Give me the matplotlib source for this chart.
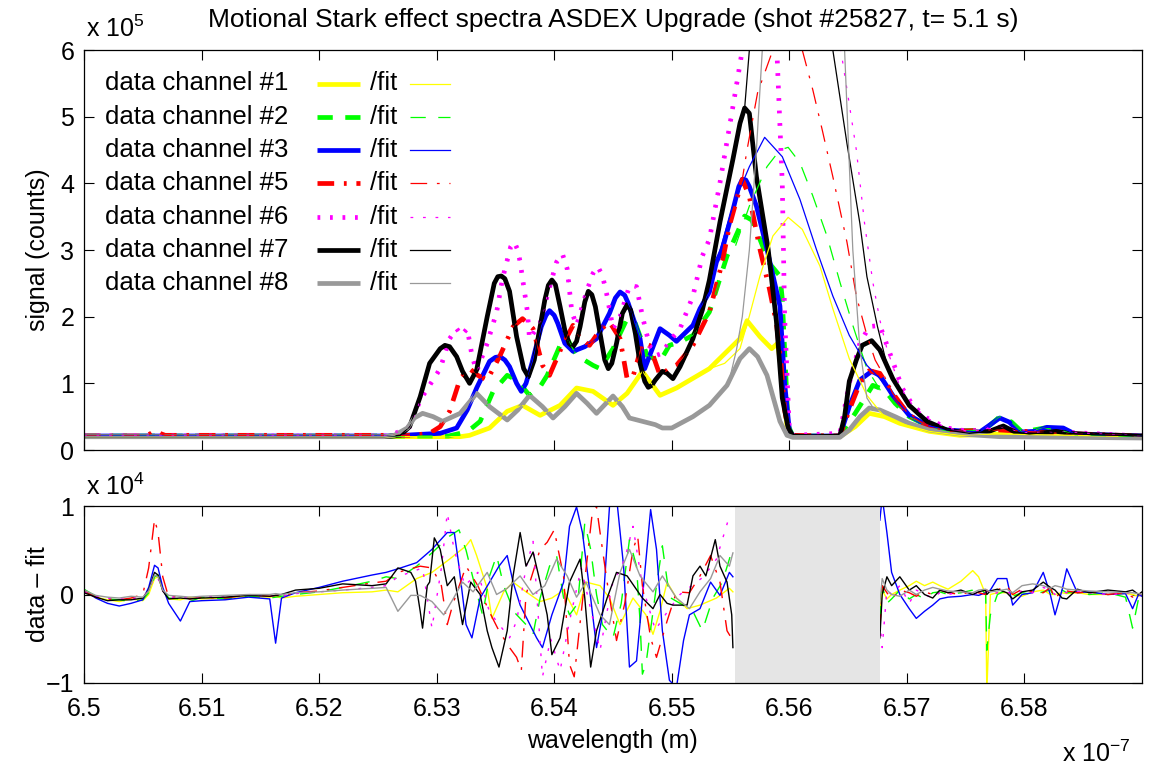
import numpy as np
import matplotlib
matplotlib.use("Agg")
import matplotlib.pyplot as plt

plt.rcParams['font.family'] = ['Liberation Sans', 'DejaVu Sans']
plt.rcParams['mathtext.fontset'] = 'custom'
plt.rcParams['mathtext.rm'] = 'Liberation Sans'
plt.rcParams['mathtext.it'] = 'Liberation Sans:italic'
plt.rcParams['mathtext.bf'] = 'Liberation Sans:bold'
plt.rcParams['mathtext.sf'] = 'Liberation Sans'
plt.rcParams['lines.scale_dashes'] = False

# ---------------- data (wavelength in nm, signal in 1e5 counts) ----------------
channel_names = ['#1', '#2', '#3', '#5', '#6', '#7', '#8']

lam1 = [650.0, 653.2, 653.28, 653.45, 653.60, 653.73, 653.88, 654.05, 654.19, 654.33, 654.50, 654.62, 654.75, 654.90, 655.04, 655.32, 655.58, 655.64, 655.75, 655.85, 655.90, 655.94, 655.98, 656.03, 656.43, 656.56, 656.68, 656.81, 656.94, 657.19, 657.45, 657.79, 659.0]
sig1 = [0.20, 0.20, 0.22, 0.33, 0.58, 0.67, 0.52, 0.67, 0.93, 0.88, 0.67, 0.85, 1.18, 0.82, 0.93, 1.22, 1.67, 1.94, 1.70, 1.52, 1.60, 1.10, 0.35, 0.20, 0.20, 0.35, 0.55, 0.50, 0.40, 0.28, 0.22, 0.24, 0.20]

lam2 = [650.0, 653.1, 653.20, 653.28, 653.37, 653.48, 653.54, 653.60, 653.68, 653.79, 653.88, 653.94, 654.05, 654.11, 654.19, 654.33, 654.39, 654.50, 654.62, 654.69, 654.79, 654.90, 654.98, 655.07, 655.18, 655.32, 655.47, 655.62, 655.68, 655.75, 655.83, 655.92, 655.94, 655.96, 655.99, 656.03, 656.43, 656.56, 656.71, 656.81, 656.90, 657.02, 657.19, 657.36, 657.66, 657.79, 657.89, 657.98, 658.17, 658.30, 658.43, 659.0]
sig2 = [0.21, 0.21, 0.25, 0.30, 0.43, 0.88, 1.00, 1.12, 1.05, 0.82, 0.95, 1.12, 1.57, 1.67, 1.42, 1.27, 1.22, 1.52, 1.97, 1.90, 1.42, 1.33, 1.57, 1.62, 1.72, 2.07, 2.91, 3.51, 3.45, 3.16, 2.80, 2.61, 2.27, 1.50, 0.37, 0.21, 0.21, 0.55, 0.97, 0.90, 0.70, 0.50, 0.35, 0.28, 0.30, 0.50, 0.42, 0.27, 0.33, 0.30, 0.23, 0.20]

lam3 = [650.0, 652.6, 653.03, 653.17, 653.26, 653.34, 653.45, 653.50, 653.54, 653.58, 653.62, 653.68, 653.72, 653.76, 653.81, 653.89, 653.93, 653.96, 654.00, 654.03, 654.09, 654.16, 654.26, 654.36, 654.47, 654.52, 654.56, 654.60, 654.63, 654.73, 654.77, 654.83, 654.90, 654.98, 655.04, 655.18, 655.24, 655.32, 655.38, 655.43, 655.52, 655.57, 655.60, 655.63, 655.66, 655.72, 655.81, 655.92, 655.96, 656.00, 656.03, 656.43, 656.51, 656.60, 656.70, 656.77, 656.88, 657.02, 657.17, 657.34, 657.62, 657.79, 657.87, 657.96, 658.09, 658.19, 658.33, 658.43, 659.0]
sig3 = [0.21, 0.21, 0.25, 0.33, 0.60, 0.93, 1.33, 1.39, 1.40, 1.35, 1.25, 1.00, 0.88, 1.00, 1.30, 1.85, 2.02, 2.09, 2.02, 1.90, 1.60, 1.48, 1.55, 1.67, 2.05, 2.28, 2.37, 2.32, 2.20, 1.67, 1.22, 1.50, 1.82, 1.72, 1.63, 1.87, 2.12, 2.37, 2.82, 3.01, 3.60, 3.95, 4.06, 4.05, 3.95, 3.66, 3.01, 2.16, 1.00, 0.30, 0.21, 0.21, 0.65, 1.05, 1.18, 1.12, 0.82, 0.52, 0.37, 0.30, 0.27, 0.48, 0.42, 0.27, 0.28, 0.34, 0.33, 0.24, 0.21]

lam5 = [650.0, 650.5, 650.54, 650.60, 650.69, 652.8, 652.94, 653.03, 653.11, 653.20, 653.28, 653.35, 653.43, 653.54, 653.65, 653.73, 653.82, 653.90, 653.96, 654.07, 654.16, 654.22, 654.30, 654.39, 654.47, 654.56, 654.62, 654.67, 654.75, 654.81, 654.90, 654.98, 655.04, 655.18, 655.32, 655.43, 655.49, 655.60, 655.66, 655.75, 655.83, 655.89, 655.93, 655.96, 656.00, 656.43, 656.51, 656.60, 656.68, 656.77, 656.88, 657.02, 657.19, 657.36, 657.79, 658.30, 659.0]
sig5 = [0.21, 0.21, 0.22, 0.28, 0.22, 0.22, 0.25, 0.35, 0.58, 1.07, 1.22, 1.12, 1.05, 1.42, 1.85, 1.97, 1.82, 1.27, 1.12, 1.57, 1.87, 1.67, 1.57, 1.80, 1.92, 1.67, 1.07, 1.10, 1.60, 1.57, 1.12, 1.22, 1.27, 1.57, 2.07, 2.82, 3.36, 4.06, 3.80, 3.01, 2.42, 1.90, 1.30, 0.60, 0.22, 0.21, 0.60, 1.00, 1.19, 1.15, 0.85, 0.52, 0.35, 0.28, 0.30, 0.25, 0.21]

lam6 = [650.0, 652.6, 652.77, 652.86, 653.03, 653.11, 653.17, 653.21, 653.26, 653.30, 653.34, 653.43, 653.51, 653.56, 653.63, 653.66, 653.69, 653.71, 653.77, 653.79, 653.88, 653.94, 654.02, 654.07, 654.11, 654.15, 654.19, 654.28, 654.33, 654.37, 654.41, 654.45, 654.50, 654.56, 654.64, 654.70, 654.75, 654.81, 654.87, 654.92, 654.98, 655.07, 655.18, 655.26, 655.32, 655.41, 655.52, 655.60, 655.71, 655.79, 655.88, 655.94, 655.96, 656.00, 656.03, 656.43, 656.51, 656.60, 656.68, 656.77, 656.88, 656.96, 657.05, 657.17, 657.34, 657.53, 657.82, 657.96, 658.30, 659.0]
sig6 = [0.21, 0.21, 0.35, 0.75, 1.22, 1.67, 1.82, 1.72, 1.82, 1.42, 1.18, 1.60, 2.07, 2.57, 3.05, 3.12, 3.00, 2.82, 2.10, 1.67, 1.90, 2.31, 2.82, 2.94, 2.72, 2.07, 1.87, 2.40, 2.65, 2.75, 2.62, 2.31, 1.82, 2.00, 2.46, 2.45, 2.01, 1.57, 1.42, 1.45, 1.63, 1.82, 2.31, 2.91, 3.16, 4.01, 5.15, 6.00, 6.80, 7.00, 6.60, 4.00, 2.00, 0.30, 0.22, 0.25, 1.00, 1.60, 1.85, 1.87, 1.33, 0.93, 0.67, 0.48, 0.33, 0.28, 0.35, 0.26, 0.27, 0.21]

lam7 = [650.0, 651.0, 652.0, 652.55, 652.69, 652.77, 652.86, 652.94, 653.03, 653.07, 653.11, 653.17, 653.22, 653.28, 653.34, 653.43, 653.49, 653.52, 653.55, 653.58, 653.62, 653.68, 653.74, 653.78, 653.83, 653.92, 653.95, 653.98, 654.01, 654.05, 654.09, 654.13, 654.16, 654.19, 654.22, 654.26, 654.29, 654.32, 654.35, 654.41, 654.43, 654.46, 654.49, 654.53, 654.58, 654.62, 654.65, 654.69, 654.73, 654.77, 654.80, 654.83, 654.86, 654.92, 654.96, 655.01, 655.07, 655.18, 655.26, 655.32, 655.41, 655.52, 655.58, 655.62, 655.66, 655.72, 655.82, 655.89, 655.94, 655.99, 656.03, 656.20, 656.43, 656.47, 656.51, 656.57, 656.62, 656.70, 656.77, 656.88, 657.02, 657.17, 657.34, 657.53, 657.70, 657.82, 657.92, 658.04, 658.17, 658.27, 658.38, 658.58, 659.0]
sig7 = [0.20, 0.20, 0.20, 0.20, 0.22, 0.35, 0.80, 1.30, 1.52, 1.57, 1.55, 1.40, 1.18, 1.00, 1.20, 2.00, 2.50, 2.60, 2.61, 2.57, 2.38, 1.70, 1.22, 1.10, 1.35, 2.25, 2.47, 2.55, 2.48, 2.15, 1.80, 1.58, 1.55, 1.63, 1.85, 2.22, 2.38, 2.33, 2.15, 1.55, 1.35, 1.22, 1.30, 1.60, 2.05, 2.18, 2.10, 1.75, 1.30, 1.03, 0.94, 0.97, 1.05, 1.18, 1.15, 1.07, 1.25, 1.67, 2.10, 2.55, 3.42, 4.36, 4.90, 5.13, 5.05, 4.10, 3.01, 1.93, 0.78, 0.33, 0.21, 0.20, 0.21, 0.50, 1.03, 1.35, 1.57, 1.64, 1.50, 1.07, 0.67, 0.43, 0.30, 0.25, 0.28, 0.36, 0.27, 0.24, 0.26, 0.28, 0.25, 0.23, 0.21]

lam8 = [650.0, 652.55, 652.64, 652.75, 652.81, 652.88, 652.97, 653.05, 653.20, 653.34, 653.45, 653.60, 653.69, 653.79, 653.90, 653.99, 654.09, 654.19, 654.28, 654.36, 654.50, 654.58, 654.64, 654.75, 654.86, 654.92, 655.00, 655.18, 655.32, 655.47, 655.58, 655.66, 655.73, 655.81, 655.92, 655.98, 656.03, 656.43, 656.51, 656.60, 656.68, 656.77, 656.90, 657.02, 657.19, 657.45, 657.79, 659.0]
sig8 = [0.20, 0.20, 0.22, 0.33, 0.48, 0.55, 0.50, 0.43, 0.55, 0.85, 0.65, 0.45, 0.60, 0.82, 0.65, 0.48, 0.65, 0.85, 0.70, 0.55, 0.81, 0.65, 0.48, 0.43, 0.38, 0.33, 0.33, 0.50, 0.67, 0.97, 1.37, 1.52, 1.40, 1.12, 0.43, 0.22, 0.19, 0.19, 0.30, 0.50, 0.63, 0.60, 0.50, 0.40, 0.30, 0.24, 0.20, 0.18]

# fits where they differ from the data (central region)
fit1_lam = [655.32, 655.45, 655.58, 655.66, 655.75, 655.86, 655.99, 656.11, 656.26, 656.37, 656.51, 656.66, 656.77, 656.81]
fit1 = [1.22, 1.30, 1.52, 2.01, 2.61, 3.21, 3.49, 3.31, 2.76, 2.12, 1.37, 0.82, 0.58, 0.50]
fit2_lam = [655.47, 655.52, 655.66, 655.81, 655.92, 655.99, 656.09, 656.20, 656.32, 656.43, 656.54, 656.66, 656.78, 656.90]
fit2 = [2.91, 2.95, 3.66, 4.25, 4.50, 4.54, 4.31, 3.81, 3.21, 2.52, 1.87, 1.22, 0.88, 0.70]
fit3_lam = [655.38, 655.52, 655.66, 655.79, 655.94, 656.09, 656.23, 656.37, 656.51, 656.66, 656.77, 656.88]
fit3 = [2.82, 3.66, 4.25, 4.69, 4.40, 3.76, 3.01, 2.31, 1.72, 1.27, 1.07, 0.82]
fit5_lam = [655.60, 655.64, 655.73, 655.86, 655.98, 656.11, 656.20, 656.28, 656.37, 656.49, 656.57, 656.66, 656.73, 656.81, 656.88]
fit5 = [4.06, 4.50, 5.36, 6.00, 6.35, 6.00, 5.40, 4.80, 4.10, 3.12, 2.31, 1.72, 1.35, 1.10, 0.85]
fit6_lam = [655.60, 655.75, 655.90, 656.05, 656.20, 656.32, 656.42, 656.50, 656.57, 656.64, 656.71, 656.77, 656.83, 656.94, 657.05]
fit6 = [6.00, 7.80, 8.80, 9.00, 8.50, 7.30, 6.20, 5.30, 4.50, 3.40, 2.52, 1.95, 1.52, 0.95, 0.67]
fit7_lam = [655.62, 655.66, 655.72, 655.85, 656.00, 656.15, 656.31, 656.37, 656.49, 656.60, 656.66, 656.75, 656.82]
fit7 = [5.13, 6.00, 7.00, 8.30, 8.70, 8.30, 6.80, 6.00, 4.60, 3.40, 2.60, 1.85, 1.35]
fit8_lam = [655.47, 655.49, 655.55, 655.60, 655.66, 655.72, 655.77, 655.90, 656.12, 656.35, 656.47, 656.54, 656.60, 656.66, 656.71]
fit8 = [0.97, 1.05, 1.50, 2.00, 3.00, 4.50, 6.00, 8.50, 9.50, 8.50, 6.00, 3.00, 1.52, 0.78, 0.64]

# residuals (data - fit) in 1e4 counts
res_left_lam = [650.0, 650.1, 650.2, 650.3, 650.4, 650.5, 650.55, 650.6, 650.63, 650.67, 650.72, 650.82, 650.9, 651.0, 651.2, 651.4, 651.58, 651.63, 651.68, 651.8, 652.0, 652.2, 652.45]
res_right_lam = [656.77, 656.79, 656.83, 656.87, 656.94, 657.02, 657.08, 657.15, 657.22, 657.28, 657.35, 657.46, 657.56, 657.61, 657.67, 657.68, 657.71, 657.77, 657.85, 657.90, 657.98, 658.07, 658.16, 658.22, 658.26, 658.32, 658.36, 658.45, 658.55, 658.71, 658.86, 658.92, 658.97, 659.0]

res1_left = [0.03, -0.03, -0.06, -0.08, -0.05, -0.07, 0.0, 0.18, 0.2, 0.05, -0.05, -0.06, -0.03, -0.05, -0.04, -0.02, -0.03, -0.02, -0.04, -0.02, 0.0, 0.02, 0.03]
res1_mid_lam = [652.57, 652.67, 652.83, 652.96, 653.11, 653.25, 653.29, 653.34, 653.43, 653.47, 653.57, 653.65, 653.76, 653.88, 653.98, 654.08, 654.19, 654.27, 654.39, 654.47, 654.56, 654.67, 654.78, 654.84, 654.90, 654.96, 655.04, 655.13, 655.24, 655.38, 655.49, 655.52]
res1_mid = [0.05, 0.03, 0.18, 0.25, 0.40, 0.55, 0.62, 0.44, 0.07, -0.27, 0.03, 0.14, 0.03, -0.08, -0.04, 0.05, -0.23, 0.14, 0.10, -0.04, -0.34, -0.04, -0.23, -0.45, -0.19, 0.14, -0.04, -0.16, -0.12, -0.04, 0.07, 0.03]
res1_right = [-0.2, 0.05, -0.05, 0.0, 0.05, 0.1, 0.15, 0.1, 0.14, 0.1, 0.06, 0.15, 0.27, 0.2, 0.0, -1.1, 0.0, 0.02, 0.02, 0.0, -0.02, 0.03, 0.05, 0.0, 0.0, 0.02, 0.01, 0.02, 0.0, 0.0, 0.01, 0.0, -0.02, 0.0]

res2_left = [0.06, -0.02, -0.05, -0.06, -0.08, -0.06, 0.02, 0.2, 0.22, 0.06, -0.04, -0.05, -0.08, -0.03, -0.05, -0.02, -0.04, -0.03, -0.02, 0.0, 0.03, 0.08, 0.15]
res2_mid_lam = [652.57, 652.67, 652.83, 652.96, 653.11, 653.19, 653.25, 653.31, 653.39, 653.45, 653.51, 653.57, 653.66, 653.76, 653.82, 653.88, 653.96, 654.02, 654.08, 654.13, 654.20, 654.26, 654.31, 654.36, 654.41, 654.50, 654.57, 654.64, 654.70, 654.73, 654.75, 654.78, 654.87, 654.92, 654.98, 655.07, 655.18, 655.26, 655.35, 655.43, 655.49, 655.52]
res2_mid = [0.20, 0.18, 0.32, 0.47, 0.66, 0.73, 0.50, 0.18, -0.23, 0.21, 0.44, 0.10, -0.20, -0.34, -0.45, -0.04, 0.32, 0.44, -0.04, -0.23, -0.10, 0.81, 0.51, 0.00, -0.34, -0.49, -0.10, 0.62, 0.32, -0.30, -0.90, -0.79, 0.10, 0.55, -0.03, -0.10, -0.19, -0.41, -0.04, 0.14, 0.40, 0.55]
res2_right = [-0.3, 0.1, -0.1, -0.05, 0.05, -0.05, 0.0, -0.05, 0.02, 0.03, 0.0, 0.02, 0.05, 0.1, 0.0, -0.63, -0.23, 0.0, 0.05, -0.02, 0.02, 0.0, 0.03, 0.05, -0.03, 0.05, 0.02, 0.03, 0.0, 0.02, -0.03, -0.38, -0.05, 0.0]

res3_left = [0.05, -0.04, -0.1, -0.13, -0.1, -0.06, 0.08, 0.33, 0.3, 0.08, -0.1, -0.3, -0.08, -0.07, -0.06, -0.03, -0.05, -0.55, -0.04, 0.02, 0.08, 0.15, 0.22]
res3_mid_lam = [652.57, 652.67, 652.83, 652.96, 653.09, 653.15, 653.19, 653.25, 653.30, 653.37, 653.45, 653.53, 653.60, 653.65, 653.71, 653.85, 653.90, 653.98, 654.08, 654.13, 654.19, 654.24, 654.31, 654.36, 654.41, 654.47, 654.53, 654.59, 654.64, 654.70, 654.75, 654.82, 654.87, 654.92, 654.98, 655.04, 655.10, 655.15, 655.24, 655.33, 655.41, 655.49, 655.52]
res3_mid = [0.25, 0.29, 0.36, 0.51, 0.70, 0.70, 0.32, -0.34, -0.49, -0.04, 0.14, 0.32, 0.44, 0.14, -0.12, -0.49, -0.60, -0.23, 0.14, 0.77, 0.99, 0.70, -0.04, -0.60, -0.23, 0.99, 1.10, 0.32, -0.82, -0.75, -0.04, 0.96, 0.51, -0.41, -0.97, -1.05, -0.52, -0.23, -0.16, 0.14, -0.01, 0.25, 0.20]
res3_right = [0.84, 1.1, 0.7, 0.25, 0.0, -0.16, -0.27, -0.19, -0.12, -0.05, -0.03, -0.02, 0.0, -0.01, 0.02, 0.03, 0.05, 0.18, 0.18, -0.12, 0.0, 0.02, 0.25, 0.0, -0.23, 0.05, 0.29, 0.02, 0.03, 0.0, 0.01, -0.16, 0.0, -0.02]

res5_left = [0.04, -0.03, -0.05, -0.06, -0.04, 0.0, 0.3, 0.85, 0.7, 0.2, -0.03, -0.02, -0.05, -0.03, -0.04, 0.0, -0.02, -0.01, -0.02, 0.02, 0.04, 0.08, 0.13]
res5_mid_lam = [652.57, 652.67, 652.86, 652.96, 653.04, 653.09, 653.14, 653.25, 653.35, 653.45, 653.53, 653.62, 653.68, 653.72, 653.76, 653.88, 653.94, 654.00, 654.08, 654.13, 654.17, 654.23, 654.32, 654.36, 654.39, 654.45, 654.53, 654.60, 654.67, 654.71, 654.75, 654.82, 654.87, 654.96, 655.04, 655.15, 655.24, 655.33, 655.41, 655.47, 655.52]
res5_mid = [0.15, 0.25, 0.32, 0.30, 0.10, -0.34, -0.10, 0.32, 0.10, -0.20, -0.41, -0.60, -0.71, -0.86, 0.00, 0.51, 0.59, 0.73, 0.20, -0.79, -0.93, -0.20, 0.88, 0.99, 0.70, 0.14, -0.52, -0.10, 0.51, 0.66, 0.10, -0.49, -0.71, -0.30, 0.03, 0.02, 0.21, 0.44, 0.14, -0.41, -0.52]
res5_right = [-0.41, 0.1, 0.02, -0.05, 0.05, 0.02, -0.02, 0.03, 0.0, 0.05, 0.02, 0.0, 0.04, 0.02, 0.0, 0.05, 0.02, 0.05, 0.1, 0.0, 0.06, 0.03, 0.02, 0.08, -0.05, 0.05, 0.04, 0.02, 0.03, 0.0, 0.02, -0.03, 0.0, -0.01]

res6_left = [0.03, -0.02, -0.04, -0.05, -0.05, -0.03, 0.05, 0.2, 0.18, 0.04, -0.03, -0.03, -0.04, -0.02, -0.03, -0.01, -0.02, -0.01, -0.02, 0.01, 0.03, 0.05, 0.08]
res6_mid_lam = [652.57, 652.67, 652.88, 652.96, 653.04, 653.09, 653.15, 653.24, 653.35, 653.45, 653.62, 653.68, 653.76, 653.82, 653.90, 653.97, 654.05, 654.13, 654.23, 654.39, 654.49, 654.60, 654.67, 654.75, 654.86, 654.96, 655.07, 655.17, 655.27, 655.38, 655.48, 655.52]
res6_mid = [0.10, 0.20, 0.30, -0.38, 0.30, 0.92, 0.50, 0.10, 0.25, -0.20, -0.49, -0.30, 0.30, 0.60, -0.93, -0.50, -0.86, -0.30, 0.30, -0.63, 0.10, 0.40, 0.77, 0.10, -0.40, -0.20, 0.00, 0.10, 0.20, 0.40, 0.84, 0.88]
res6_right = [-0.3, -0.6, 0.05, 0.0, 0.1, -0.1, 0.05, 0.0, -0.04, 0.02, 0.0, 0.03, 0.02, 0.0, 0.05, 0.02, 0.0, 0.02, 0.03, 0.0, 0.04, 0.02, 0.08, 0.05, 0.0, 0.03, 0.02, 0.04, 0.02, 0.0, 0.01, 0.03, 0.0, 0.0]

res7_left = [0.02, -0.03, -0.07, -0.06, -0.06, -0.04, 0.05, 0.25, 0.22, 0.04, -0.05, -0.04, -0.05, -0.04, -0.03, -0.01, -0.02, -0.01, 0.0, 0.05, 0.07, 0.12, 0.1]
res7_mid_lam = [652.57, 652.67, 652.78, 652.82, 652.86, 652.88, 652.92, 652.94, 652.98, 653.03, 653.09, 653.15, 653.22, 653.29, 653.37, 653.43, 653.47, 653.53, 653.60, 653.65, 653.71, 653.76, 653.82, 653.88, 653.94, 653.98, 654.05, 654.13, 654.22, 654.26, 654.31, 654.36, 654.45, 654.53, 654.62, 654.75, 654.84, 654.90, 654.96, 655.01, 655.13, 655.18, 655.24, 655.29, 655.37, 655.41, 655.47, 655.51, 655.52]
res7_mid = [0.12, 0.30, 0.25, 0.15, -0.19, -0.38, 0.10, 0.14, 0.64, 0.51, 0.10, 0.20, -0.34, 0.14, 0.00, -0.41, -0.60, -0.82, -0.41, 0.21, 0.70, 0.32, 0.48, 0.14, -0.23, -0.68, -0.49, 0.14, 0.40, -0.04, -0.82, -0.41, -0.04, 0.25, 0.21, -0.04, -0.16, 0.00, -0.10, -0.12, -0.12, 0.21, 0.32, 0.21, 0.62, 0.32, 0.14, -0.23, -0.60]
res7_right = [-0.49, 0.0, 0.2, 0.1, 0.2, 0.05, 0.1, 0.0, -0.04, 0.05, 0.02, 0.05, 0.0, 0.03, 0.05, 0.0, 0.04, 0.06, 0.02, -0.05, 0.03, 0.05, 0.14, 0.08, 0.05, -0.04, -0.05, 0.06, 0.02, 0.05, 0.03, 0.05, 0.0, 0.03]

res8_left = [0.05, -0.01, -0.03, -0.04, -0.02, -0.03, 0.04, 0.22, 0.2, 0.05, -0.01, -0.02, -0.03, -0.02, -0.01, 0.0, 0.0, 0.01, 0.0, 0.02, 0.03, 0.05, 0.07]
res8_mid_lam = [652.57, 652.67, 652.78, 652.86, 652.96, 653.06, 653.14, 653.22, 653.31, 653.43, 653.51, 653.60, 653.71, 653.82, 653.92, 654.02, 654.11, 654.19, 654.27, 654.39, 654.47, 654.56, 654.64, 654.73, 654.84, 654.92, 655.04, 655.15, 655.24, 655.33, 655.41, 655.49, 655.52]
res8_mid = [0.08, -0.19, -0.01, -0.01, -0.08, -0.23, -0.05, 0.14, 0.03, 0.25, 0.00, 0.07, 0.21, 0.00, 0.10, 0.40, 0.21, -0.03, 0.14, -0.23, -0.34, 0.25, 0.51, 0.21, 0.03, 0.21, -0.04, -0.16, 0.03, 0.18, 0.44, 0.32, 0.47]
res8_right = [-0.1, 0.18, 0.05, 0.0, -0.02, 0.05, 0.0, 0.05, 0.08, 0.06, 0.04, 0.03, 0.02, 0.05, 0.06, 0.05, 0.03, 0.04, 0.06, 0.02, 0.1, 0.12, 0.1, 0.07, 0.1, 0.08, 0.06, 0.05, 0.04, 0.03, 0.02, 0.02, 0.01, 0.0]

excluded_band = [655.535, 656.768]   # nm, region not fitted (grey)

xtick_vals = [6.50, 6.51, 6.52, 6.53, 6.54, 6.55, 6.56, 6.57, 6.58]
xtick_labels = ['6.5', '6.51', '6.52', '6.53', '6.54', '6.55', '6.56', '6.57', '6.58']
ytick_top = [0, 1, 2, 3, 4, 5, 6]
ytick_bot = [-1, 0, 1]

title = 'Motional Stark effect spectra ASDEX Upgrade (shot #25827, t= 5.1 s)'

# ---------------- styles ----------------
DASH = (0, (11, 9))
DASHDOT = (0, (12, 7, 2, 7))
DOT = (0, (2, 7))
channels = [
    dict(name='#1', lam=lam1, sig=sig1, fl=fit1_lam, fv=fit1, rl=res1_left, rml=res1_mid_lam, rm=res1_mid, rr=res1_right, c='#ffff00', ls='-'),
    dict(name='#2', lam=lam2, sig=sig2, fl=fit2_lam, fv=fit2, rl=res2_left, rml=res2_mid_lam, rm=res2_mid, rr=res2_right, c='#00ff00', ls=DASH),
    dict(name='#3', lam=lam3, sig=sig3, fl=fit3_lam, fv=fit3, rl=res3_left, rml=res3_mid_lam, rm=res3_mid, rr=res3_right, c='#0000ff', ls='-'),
    dict(name='#5', lam=lam5, sig=sig5, fl=fit5_lam, fv=fit5, rl=res5_left, rml=res5_mid_lam, rm=res5_mid, rr=res5_right, c='#ff0000', ls=DASHDOT),
    dict(name='#6', lam=lam6, sig=sig6, fl=fit6_lam, fv=fit6, rl=res6_left, rml=res6_mid_lam, rm=res6_mid, rr=res6_right, c='#ff00ff', ls=DOT),
    dict(name='#7', lam=lam7, sig=sig7, fl=fit7_lam, fv=fit7, rl=res7_left, rml=res7_mid_lam, rm=res7_mid, rr=res7_right, c='#000000', ls='-'),
    dict(name='#8', lam=lam8, sig=sig8, fl=fit8_lam, fv=fit8, rl=res8_left, rml=res8_mid_lam, rm=res8_mid, rr=res8_right, c='#999999', ls='-'),
]

NM = 100.0  # nm -> units of 1e-7 m
W, H = 1154, 769
fig = plt.figure(figsize=(W / 100, H / 100), dpi=100)


def rect(l, t, r, b):
    return [l / W, 1 - b / H, (r - l) / W, (b - t) / H]


ax1 = fig.add_axes(rect(84, 50, 1142, 450))
ax2 = fig.add_axes(rect(84, 506, 1142, 683))

LW_DATA = 3.4
LW_FIT = 0.9

for ch in channels:
    ax1.plot(np.array(ch['lam']) / NM, ch['sig'], color=ch['c'], lw=LW_DATA, ls=ch['ls'],
             solid_capstyle='butt', dash_capstyle='butt', solid_joinstyle='round', zorder=2)

for ch in channels:
    lam = np.array(ch['lam']); sig = np.array(ch['sig'])
    fl = np.array(ch['fl']); fv = np.array(ch['fv'])
    m1 = lam < fl[0]; m2 = lam > fl[-1]
    x = np.concatenate([lam[m1], fl, lam[m2]]) / NM
    y = np.concatenate([sig[m1], fv, sig[m2]])
    ax1.plot(x, y, color=ch['c'], lw=LW_FIT, ls=ch['ls'], dash_capstyle='butt', zorder=3)

for ch in channels:
    x = np.concatenate([res_left_lam, ch['rml'], [np.nan], res_right_lam]) / NM
    y = np.concatenate([ch['rl'], ch['rm'], [np.nan], ch['rr']])
    ax2.plot(x, y, color=ch['c'], lw=1.0, ls=ch['ls'], dash_capstyle='butt', zorder=2)

ax2.axvspan(excluded_band[0] / NM, excluded_band[1] / NM, color='#e5e5e5', lw=0, zorder=5)

for ax in (ax1, ax2):
    ax.set_xlim(6.5, 6.59)
    ax.set_xticks(xtick_vals)
    ax.tick_params(axis='both', which='both', direction='in', top=True, right=True,
                   length=7, width=0.8, labelsize=18)
    ax.tick_params(axis='y', pad=7)
    for s in ax.spines.values():
        s.set_linewidth(0.9)
        s.set_zorder(6)

ax1.set_ylim(0, 6)
ax1.set_yticks(ytick_top)
ax1.tick_params(labelbottom=False)
ax2.set_ylim(-1, 1)
ax2.set_yticks(ytick_bot)
ax2.set_xticklabels(xtick_labels)
ax2.tick_params(axis='x', pad=10)

# legend (label first, then line sample), two columns: data / fit
ax_w, ax_h = 1142 - 84, 450 - 50
for i, ch in enumerate(channels):
    py = 83.5 + i * 33.3
    yf = 1 - (py - 50) / ax_h
    ax1.text((105 - 84) / ax_w, yf, 'data channel ' + ch['name'], transform=ax1.transAxes,
             ha='left', va='center', fontsize=18.5, zorder=10)
    ax1.plot([(317 - 84) / ax_w, (360 - 84) / ax_w], [yf, yf], transform=ax1.transAxes,
             color=ch['c'], lw=LW_DATA, ls=ch['ls'], dash_capstyle='butt', solid_capstyle='butt',
             clip_on=False, zorder=10)
    ax1.text((370 - 84) / ax_w, yf, '/fit', transform=ax1.transAxes,
             ha='left', va='center', fontsize=18.5, zorder=10)
    ax1.plot([(410 - 84) / ax_w, (450 - 84) / ax_w], [yf, yf], transform=ax1.transAxes,
             color=ch['c'], lw=LW_FIT, ls=ch['ls'], dash_capstyle='butt',
             clip_on=False, zorder=10)

fig.text(613 / W, 1 - 20 / H, title, ha='center', va='center', fontsize=19)
fig.text(38 / W, 1 - 250 / H, 'signal (counts)', rotation=90, ha='center', va='center', fontsize=18)
fig.text(38 / W, 1 - 594 / H, 'data \u2013 fit', rotation=90, ha='center', va='center', fontsize=18)
fig.text(612 / W, 1 - 741 / H, 'wavelength (m)', ha='center', va='center', fontsize=18)
fig.text(86 / W, 1 - 37 / H, r'x 10$^{5}$', ha='left', va='baseline', fontsize=18)
fig.text(86 / W, 1 - 495 / H, r'x 10$^{4}$', ha='left', va='baseline', fontsize=18)
fig.text(1062 / W, 1 - 762 / H, r'x 10$^{-7}$', ha='left', va='baseline', fontsize=18)

fig.savefig('out.png', dpi=100)
